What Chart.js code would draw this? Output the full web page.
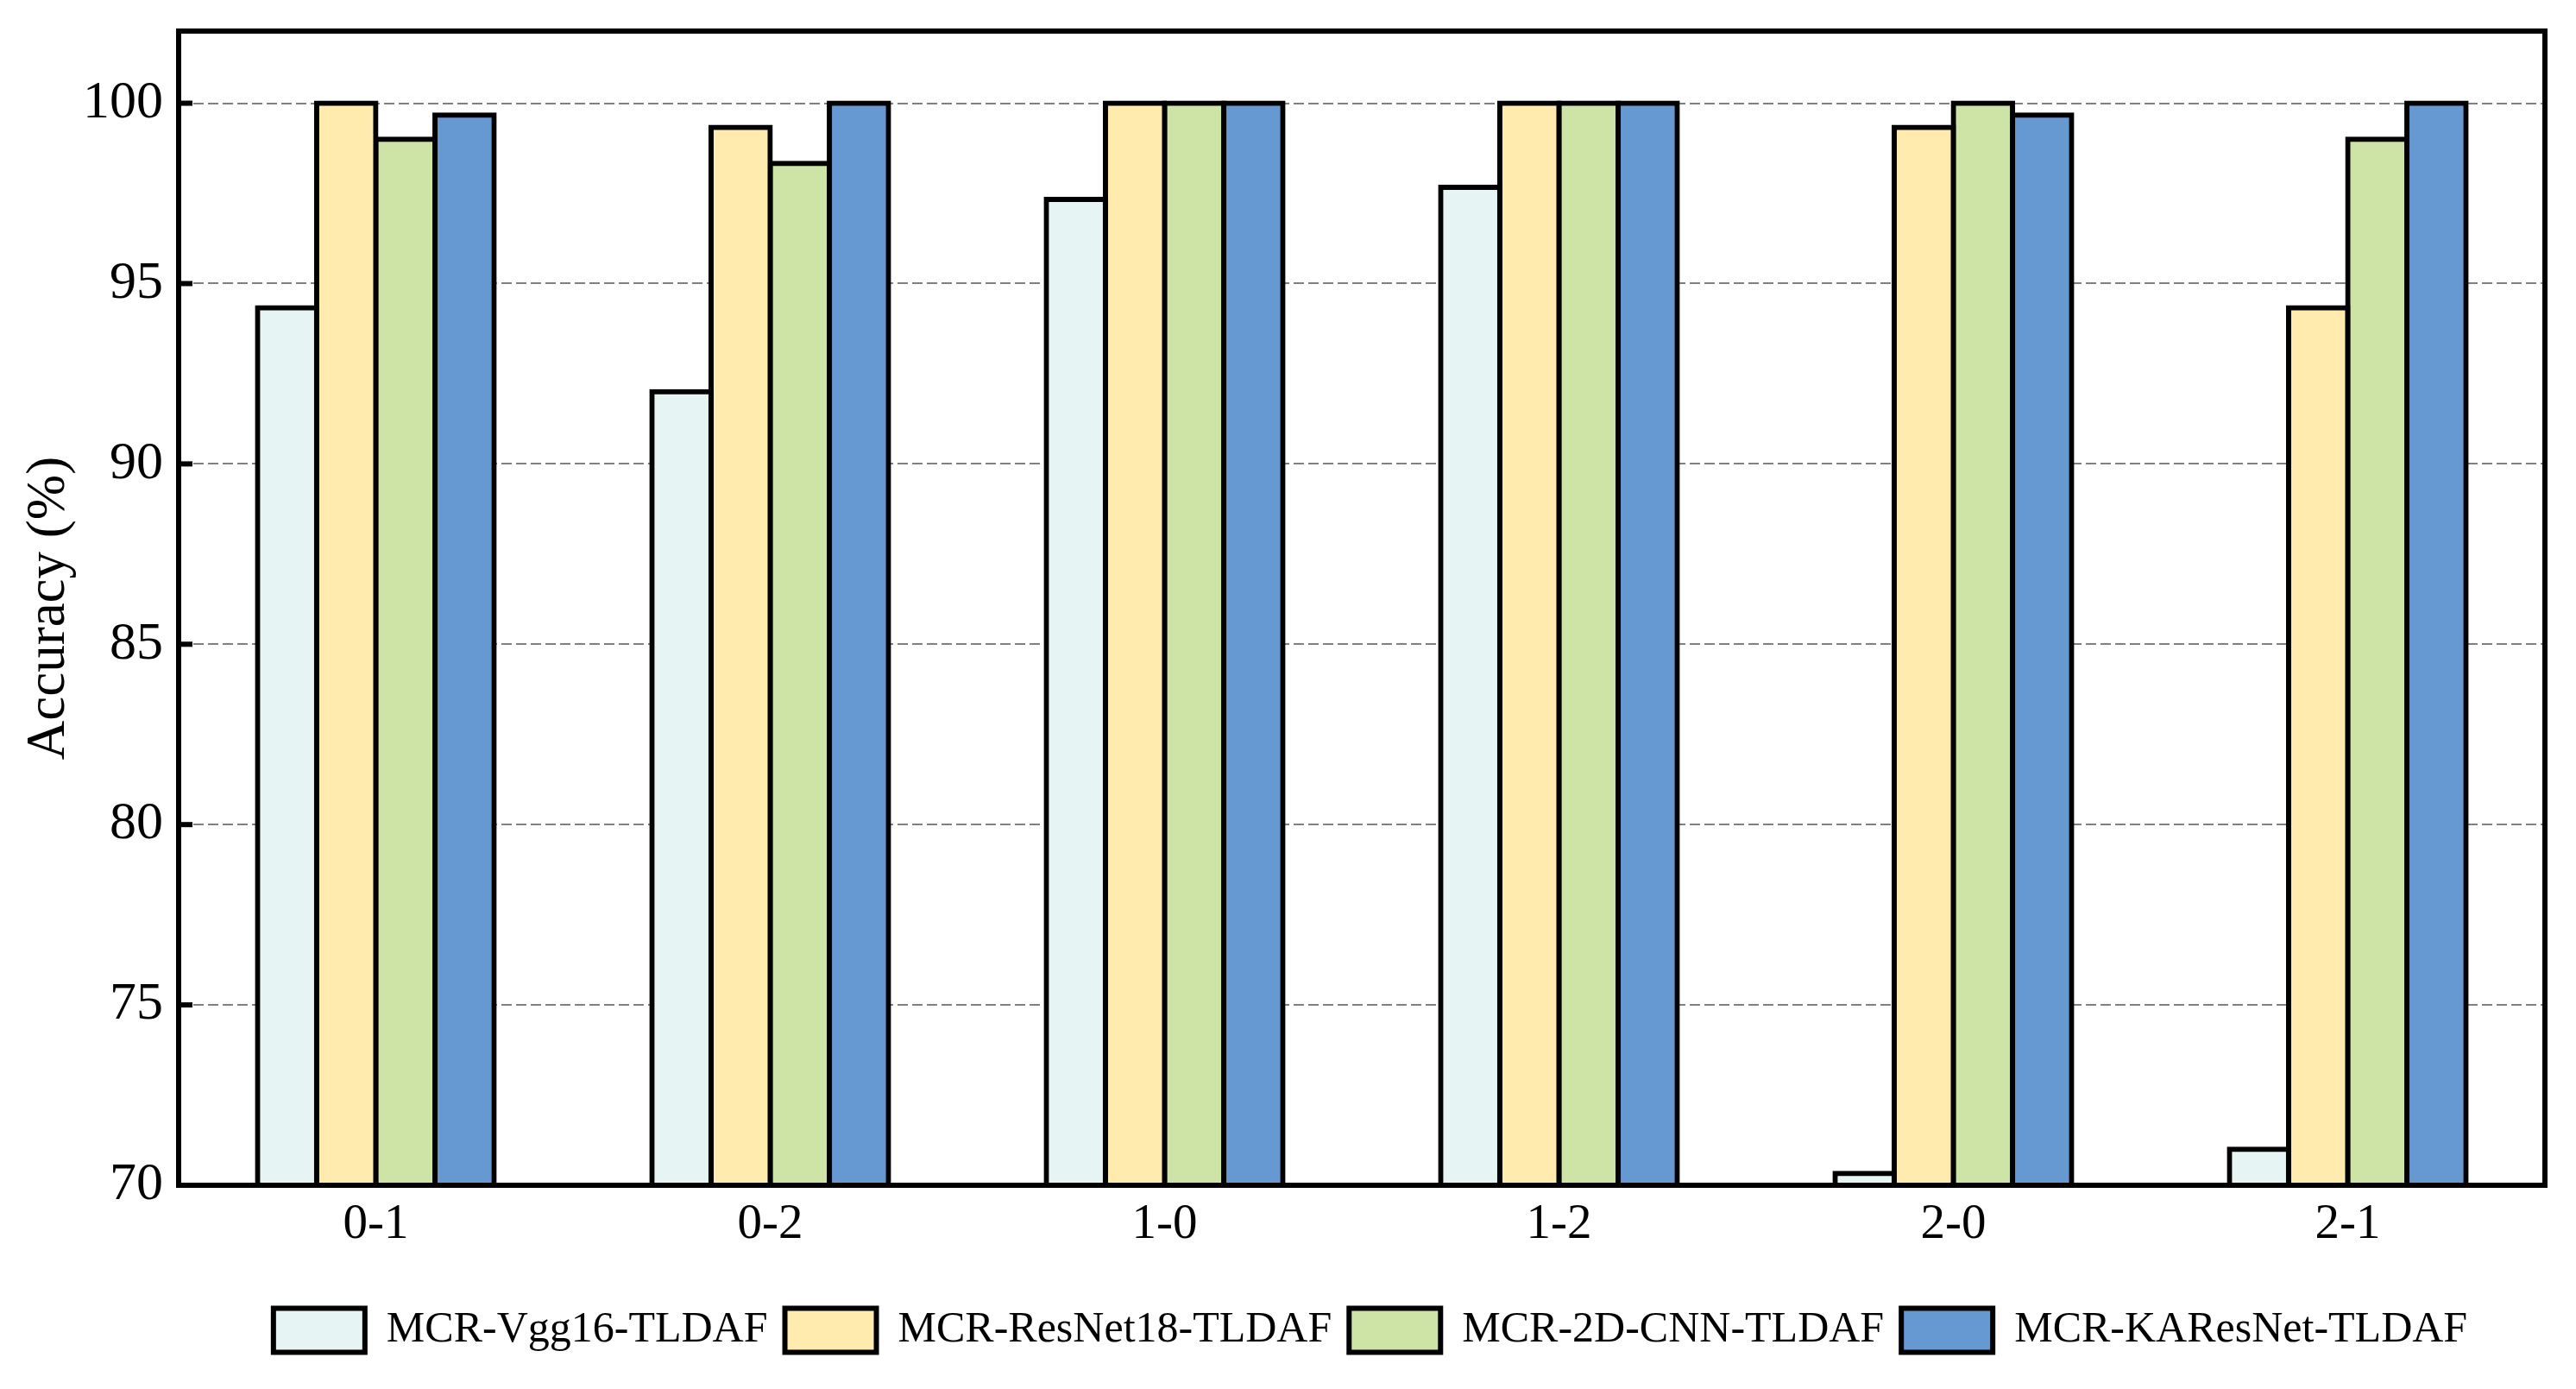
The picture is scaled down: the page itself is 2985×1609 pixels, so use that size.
<!DOCTYPE html>
<html>
<head>
<meta charset="utf-8">
<script src="https://cdn.jsdelivr.net/npm/chart.js@4"></script>
<style>
  html, body { margin: 0; padding: 0; background: #ffffff; }
  #wrap { width: 2985px; height: 1609px; }
</style>
</head>
<body>
<div id="wrap"><canvas id="c" width="2985" height="1609"></canvas></div>
<script>
const categories = ['0-1', '0-2', '1-0', '1-2', '2-0', '2-1'];
const seriesNames = ['MCR-Vgg16-TLDAF', 'MCR-ResNet18-TLDAF', 'MCR-2D-CNN-TLDAF', 'MCR-KAResNet-TLDAF'];
const vgg16 = [94.33, 92.00, 97.33, 97.67, 70.33, 71.00];
const resnet18 = [100.00, 99.33, 100.00, 100.00, 99.33, 94.33];
const cnn2d = [99.00, 98.33, 100.00, 100.00, 100.00, 99.00];
const karesnet = [99.67, 100.00, 100.00, 100.00, 99.67, 100.00];
const yTicks = [70, 75, 80, 85, 90, 95, 100];
const yMin = 70, yMax = 102;
const colors = ['#E6F5F4', '#FFEBAD', '#CDE4A6', '#6699D2'];

const FONT = '"Liberation Serif", "Times New Roman", serif';

const framePlugin = {
  id: 'frame',
  afterLayout(chart) {
    if (chart.legend) { chart.legend.left += 10; chart.legend.right += 10; }
  },
  afterDraw(chart) {
    const {ctx, chartArea: a} = chart;
    const y = chart.scales.y;
    ctx.save();
    ctx.strokeStyle = '#000';
    ctx.lineWidth = 6;
    ctx.lineCap = 'butt';
    yTicks.forEach(v => {
      const py = y.getPixelForValue(v);
      ctx.beginPath();
      ctx.moveTo(a.left, py);
      ctx.lineTo(a.left + 16, py);
      ctx.stroke();
    });
    ctx.lineJoin = 'miter';
    ctx.strokeRect(a.left, a.top, a.right - a.left, a.bottom - a.top);
    ctx.restore();
  }
};

const dataSets = [vgg16, resnet18, cnn2d, karesnet].map((d, i) => ({
  label: seriesNames[i],
  data: d,
  backgroundColor: colors[i],
  borderColor: '#000',
  borderWidth: 6,
  borderSkipped: 'start',
  inflateAmount: 3,
  categoryPercentage: 0.6,
  barPercentage: 1.0
}));

new Chart(document.getElementById('c'), {
  type: 'bar',
  data: { labels: categories, datasets: dataSets },
  options: {
    responsive: false,
    animation: false,
    devicePixelRatio: 1,
    layout: { padding: { top: 36, right: 36, bottom: 32.5, left: 0 } },
    plugins: {
      tooltip: { enabled: false },
      legend: {
        position: 'bottom',
        fullSize: false,
        labels: {
          boxWidth: 106,
          boxHeight: 51,
          padding: 20,
          color: '#000',
          font: { family: FONT, size: 50 },
          generateLabels(chart) {
            return chart.data.datasets.map((ds, i) => ({
              text: ds.label,
              fillStyle: ds.backgroundColor,
              strokeStyle: '#000',
              lineWidth: 6,
              hidden: false,
              datasetIndex: i,
              fontColor: '#000'
            }));
          }
        }
      }
    },
    scales: {
      x: {
        grid: { display: false, drawTicks: false },
        border: { display: false },
        ticks: { color: '#000', font: { family: FONT, size: 57 }, padding: 12 },
        afterFit(scale) { scale.height = 122.5; scale.paddingLeft = 0; scale.paddingRight = 0; }
      },
      y: {
        min: yMin,
        max: yMax,
        afterBuildTicks(scale) { scale.ticks = yTicks.map(v => ({ value: v })); },
        grid: { color: '#808080', lineWidth: 2, drawTicks: false },
        border: { display: false, dash: [12, 5] },
        ticks: { color: '#000', font: { family: FONT, size: 62 }, padding: 18 },
        title: {
          display: true,
          text: 'Accuracy (%)',
          color: '#000',
          font: { family: FONT, size: 63 },
          padding: { top: 20, bottom: 0 }
        },
        afterFit(scale) { scale.width = 207; scale.paddingTop = 0; scale.paddingBottom = 0; }
      }
    }
  },
  plugins: [framePlugin]
});
</script>
</body>
</html>
